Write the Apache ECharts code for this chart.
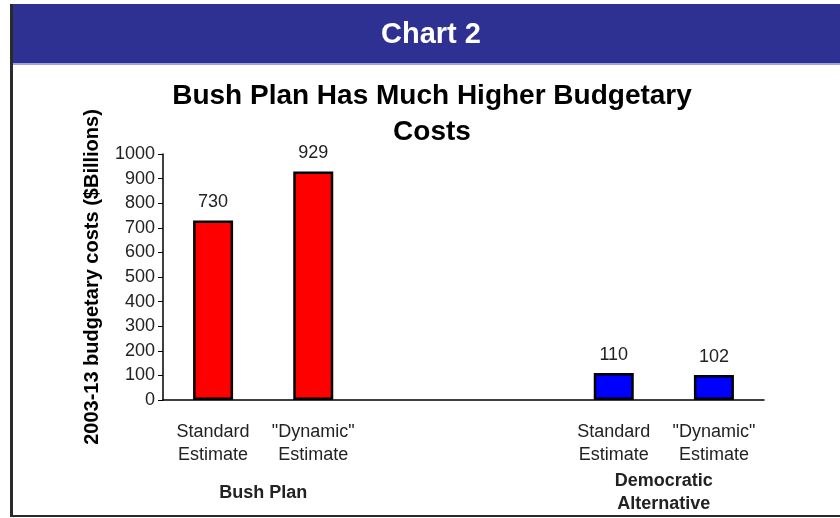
<!DOCTYPE html>
<html>
<head>
<meta charset="utf-8">
<script src="https://cdn.jsdelivr.net/npm/echarts@6/dist/echarts.min.js"></script>
<style>
html, body { margin: 0; padding: 0; background: #fff; }
#main { width: 840px; height: 518px; }
</style>
</head>
<body>
<div id="main"></div>
<script>
// data
var categories = ['Standard\nEstimate', '"Dynamic"\nEstimate', '', '', 'Standard\nEstimate', '"Dynamic"\nEstimate']
var values = [730, 929, null, null, 110, 102]
var barColors = ['#ff0000', '#ff0000', '#ff0000', '#0000ff', '#0000ff', '#0000ff']
var groups = ['Bush Plan', '', 'Democratic\nAlternative']
var yTicks = { min: 0, max: 1000, step: 100 }

var chart = echarts.init(document.getElementById('main'))

var option = {
    animation: false,
    backgroundColor: '#fff',
    textStyle: { fontFamily: 'Liberation Sans, Arial, sans-serif' },
    graphic: [
        // header band
        { type: 'rect', shape: { x: 13, y: 4, width: 827, height: 59 }, style: { fill: '#2f3192' }, z: 0 },
        { type: 'rect', shape: { x: 13, y: 63, width: 827, height: 2 }, style: { fill: '#a3a3dc' }, z: 0 },
        { type: 'text', x: 431, y: 35, style: { text: 'Chart 2', fill: '#fff', font: 'bold 29px Liberation Sans, Arial', align: 'center', verticalAlign: 'middle' }, z: 1 },
        // frame
        { type: 'rect', shape: { x: 10, y: 4, width: 3, height: 513 }, style: { fill: '#2a2a2a' }, z: 0 },
        { type: 'rect', shape: { x: 10, y: 515, width: 830, height: 2 }, style: { fill: '#2a2a2a' }, z: 0 },
        // title
        { type: 'text', x: 432, y: 114, style: { text: 'Bush Plan Has Much Higher Budgetary\nCosts', fill: '#000', font: 'bold 28px Liberation Sans, Arial', align: 'center', verticalAlign: 'middle', lineHeight: 36 }, z: 1 }
    ],
    grid: { left: 163, right: 76, top: 154, bottom: 118 },
    xAxis: [{
        type: 'category',
        data: categories,
        axisLine: { lineStyle: { color: '#000', width: 1.5 } },
        axisTick: { show: false },
        axisLabel: { interval: 0, margin: 21, fontSize: 18, lineHeight: 23, color: '#222' }
    }, {
        type: 'category',
        data: groups,
        position: 'bottom',
        axisLine: { show: false },
        axisTick: { show: false },
        axisLabel: { interval: 0, margin: 93, fontSize: 18, lineHeight: 23, fontWeight: 'bold', color: '#222', verticalAlign: 'middle' }
    }],
    yAxis: {
        type: 'value',
        min: yTicks.min,
        max: yTicks.max,
        interval: yTicks.step,
        name: '2003-13 budgetary costs ($Billions)',
        nameLocation: 'middle',
        nameGap: 61,
        nameTextStyle: { fontSize: 20, fontWeight: 'bold', color: '#000' },
        splitLine: { show: false },
        axisLine: { show: true, lineStyle: { color: '#000', width: 1.5 } },
        axisTick: { show: true, length: 5, lineStyle: { color: '#000' } },
        axisLabel: { fontSize: 18, color: '#222', margin: 8, formatter: function (v) { return String(v) } }
    },
    series: [{
        type: 'bar',
        data: values,
        barWidth: 40,
        itemStyle: {
            color: function (p) { return barColors[p.dataIndex] },
            borderColor: '#000',
            borderWidth: 2.5
        },
        label: { show: true, position: 'top', distance: 9, fontSize: 18, color: '#222' }
    }]
}
chart.setOption(option)
</script>
</body>
</html>
